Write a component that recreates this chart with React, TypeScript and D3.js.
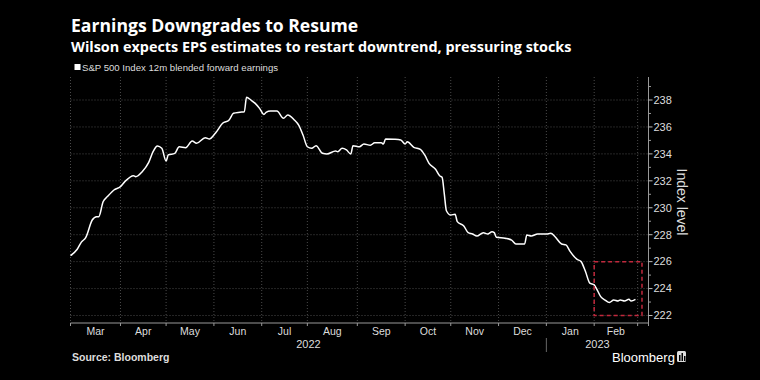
import React from "react";
import * as d3 from "d3";

const titleText = "Earnings Downgrades to Resume";
const subtitleText = "Wilson expects EPS estimates to restart downtrend, pressuring stocks";
const legendText = "S&P 500 Index 12m blended forward earnings";
const sourceText = "Source: Bloomberg";
const axisTitle = "Index level";

const dates = [
  "2022-03-01","2022-03-04","2022-03-08","2022-03-10","2022-03-15","2022-03-17","2022-03-18","2022-03-22","2022-03-24","2022-03-29",
  "2022-04-01","2022-04-05","2022-04-11","2022-04-12","2022-04-15","2022-04-20","2022-04-22","2022-04-26","2022-04-28",
  "2022-05-02","2022-05-03","2022-05-06","2022-05-10","2022-05-13","2022-05-18","2022-05-20","2022-05-26","2022-05-30",
  "2022-06-01","2022-06-02","2022-06-07","2022-06-10","2022-06-14","2022-06-17","2022-06-21","2022-06-22","2022-06-24","2022-06-28","2022-06-30",
  "2022-07-04","2022-07-05","2022-07-07","2022-07-12","2022-07-15","2022-07-19","2022-07-22","2022-07-26","2022-07-28",
  "2022-08-01","2022-08-03","2022-08-05","2022-08-10","2022-08-12","2022-08-18","2022-08-19","2022-08-23","2022-08-25","2022-08-29","2022-08-30",
  "2022-09-02","2022-09-06","2022-09-09","2022-09-13","2022-09-16","2022-09-19","2022-09-20","2022-09-26","2022-09-29",
  "2022-10-03","2022-10-04","2022-10-07","2022-10-12","2022-10-14","2022-10-18","2022-10-21","2022-10-25","2022-10-26","2022-10-27","2022-10-28",
  "2022-11-01","2022-11-03","2022-11-04","2022-11-09","2022-11-11","2022-11-15","2022-11-17","2022-11-22","2022-11-24","2022-11-28","2022-11-29","2022-11-30",
  "2022-12-06","2022-12-09","2022-12-13","2022-12-19","2022-12-20","2022-12-22","2022-12-27",
  "2023-01-02","2023-01-04","2023-01-06","2023-01-11","2023-01-13","2023-01-17","2023-01-20","2023-01-24","2023-01-26","2023-01-30",
  "2023-02-01","2023-02-02","2023-02-06","2023-02-08","2023-02-10","2023-02-14","2023-02-16","2023-02-17","2023-02-21","2023-02-23","2023-02-24","2023-02-28"
];
const values = [
  226.44,226.9,227.45,227.78,229.09,229.34,229.34,230.45,230.83,231.32,
  231.57,231.94,232.38,232.31,232.68,233.37,234.16,234.58,234.41,
  233.47,233.92,234.04,234.53,234.46,234.96,234.78,235.2,235.1,
  235.4,235.6,236.27,236.52,237.01,237.09,237.13,238.2,238.0,237.75,237.38,
  236.93,237.08,237.18,237.18,236.64,236.89,236.52,236.14,235.4,
  234.53,234.41,234.61,234.04,233.99,234.21,234.16,234.41,234.29,233.99,234.61,
  234.53,234.73,234.64,234.83,234.83,234.73,235.1,235.08,235.03,
  234.73,234.9,234.49,234.34,233.92,233.3,232.86,232.36,232.26,231.07,229.78,
  229.46,229.52,228.97,228.65,228.15,228.05,227.9,228.15,228.05,228.22,228.15,227.81,
  227.73,227.6,227.31,227.31,227.98,227.9,228.05,
  228.05,228.1,227.85,227.31,227.24,226.74,226.18,226.0,225.26,224.4,
  224.27,224.02,223.4,223.15,222.96,223.15,223.08,223.15,223.08,223.2,223.08,223.2
];

const monthStarts = [
  "2022-03-01","2022-04-01","2022-05-01","2022-06-01","2022-07-01","2022-08-01","2022-09-01",
  "2022-10-01","2022-11-01","2022-12-01","2023-01-01","2023-02-01","2023-03-01"
];
const monthLabels = ["Mar","Apr","May","Jun","Jul","Aug","Sep","Oct","Nov","Dec","Jan","Feb"];
const years = ["2022", "2023"];
const yearStarts = ["2022-03-01", "2023-01-01"];
const yTicks = [222, 224, 226, 228, 230, 232, 234, 236, 238];
const yMinorTicks = [223, 225, 227, 229, 231, 233, 235, 237, 239];
const boxDates = ["2023-02-01", "2023-03-03"];
const boxRange = [222, 226];

const parse = d3.timeParse("%Y-%m-%d");
const origin = parse("2022-03-01") as Date;

// number of weekdays in [origin, date)
function weekdayIndex(s: string): number {
  const dt = parse(s) as Date;
  let n = 0;
  const days = d3.timeDay.range(origin, dt);
  for (const d of days) {
    const w = d.getDay();
    if (w !== 0 && w !== 6) n++;
  }
  return n;
}

const W = 760, H = 380;
const left = 70.5, right = 648.5, top = 77, bottom = 323;

export default function App() {
  const x = d3.scaleLinear().domain([0, 266]).range([left, right]);
  const y = d3.scaleLinear().domain([222, 238]).range([315.5, 100]);

  const pts = dates.map((d, i) => [x(weekdayIndex(d)), y(values[i])] as [number, number]);
  const line = d3.line().curve(d3.curveMonotoneX)(pts) || "";

  const monthX = monthStarts.map((m) => x(weekdayIndex(m)));
  const yearX0 = yearStarts.map((m) => x(weekdayIndex(m)));
  const yearCenters = [(yearX0[0] + yearX0[1]) / 2, (yearX0[1] + right) / 2];

  const bx0 = x(weekdayIndex(boxDates[0]));
  const bx1 = x(weekdayIndex(boxDates[1]));
  const by0 = y(boxRange[1]);
  const by1 = y(boxRange[0]);

  const small = "'Liberation Sans', Arial, sans-serif";
  const gridColor = "#4a4a4a";

  return (
    <svg width={W} height={H} style={{ position: "fixed", left: 0, top: 0, background: "#000" }}>
      <rect x={0} y={0} width={W} height={H} fill="#000" />
      <text x={71} y={32} fill="#fff" fontFamily="'Open Sans', sans-serif" fontWeight={700} fontSize={17.6}>{titleText}</text>
      <text x={71} y={52} fill="#fff" fontFamily="'Open Sans', sans-serif" fontWeight={700} fontSize={14.4}>{subtitleText}</text>
      <rect x={74.5} y={64} width={6} height={6} fill="#fff" />
      <text x={82} y={71} fill="#ddd" fontFamily={small} fontSize={9.6}>{legendText}</text>

      {/* grid */}
      {yTicks.map((t) => (
        <line key={"gy" + t} x1={left} x2={right} y1={y(t)} y2={y(t)} stroke={gridColor} strokeWidth={1} strokeDasharray="1,2" />
      ))}
      {monthX.map((mx, i) => (
        <line key={"gx" + i} x1={mx} x2={mx} y1={top} y2={bottom} stroke={gridColor} strokeWidth={1} strokeDasharray="1,2" />
      ))}

      {/* axes */}
      <line x1={right} x2={right} y1={top} y2={bottom} stroke="#999" strokeWidth={1} />
      <line x1={left} x2={right} y1={bottom} y2={bottom} stroke="#999" strokeWidth={1} />
      {monthX.map((mx, i) => (
        <line key={"tx" + i} x1={mx} x2={mx} y1={bottom} y2={bottom + 3} stroke="#999" strokeWidth={1} />
      ))}
      <line x1={right} x2={right} y1={bottom} y2={bottom + 3} stroke="#999" strokeWidth={1} />
      {yTicks.map((t) => (
        <g key={"ty" + t}>
          <line x1={right} x2={right + 4} y1={y(t)} y2={y(t)} stroke="#bbb" strokeWidth={1} />
          <text x={right + 5} y={y(t)} dy="0.35em" fill="#ddd" fontFamily={small} fontSize={11}>{t}</text>
        </g>
      ))}
      {yMinorTicks.map((t) => (
        <line key={"tm" + t} x1={right} x2={right + 2.5} y1={y(t)} y2={y(t)} stroke="#999" strokeWidth={1} />
      ))}
      <text transform={`translate(677,${(top + bottom) / 2 + 2}) rotate(90)`} textAnchor="middle" fill="#ddd" fontFamily={small} fontSize={14}>{axisTitle}</text>

      {monthLabels.map((m, i) => (
        <text key={m + i} x={(monthX[i] + monthX[i + 1]) / 2} y={335} textAnchor="middle" fill="#ddd" fontFamily={small} fontSize={10.5}>{m}</text>
      ))}
      {years.map((yr, i) => (
        <text key={yr} x={yearCenters[i]} y={348} textAnchor="middle" fill="#ddd" fontFamily={small} fontSize={11}>{yr}</text>
      ))}
      <line x1={yearX0[1]} x2={yearX0[1]} y1={338} y2={352} stroke="#666" strokeWidth={1} />

      {/* data */}
      <path d={line} fill="none" stroke="#fff" strokeWidth={1.5} strokeLinejoin="round" />

      {/* highlight box */}
      <rect x={bx0} y={by0} width={bx1 - bx0} height={by1 - by0} fill="none" stroke="#c1283c" strokeWidth={1.5} strokeDasharray="4,3" />

      <text x={72} y={361} fill="#ddd" fontFamily={small} fontWeight={700} fontSize={10.5}>{sourceText}</text>
      <text x={612} y={362} fill="#fff" fontFamily={small} fontSize={13}>Bloomberg</text>
      <rect x={677} y={351} width={9} height={11} rx={1.5} fill="#ddd" />
      <rect x={679} y={355} width={1.5} height={6} fill="#000" />
      <rect x={681.5} y={353} width={1.5} height={8} fill="#000" />
      <rect x={684} y={356} width={1.5} height={5} fill="#000" />
    </svg>
  );
}
